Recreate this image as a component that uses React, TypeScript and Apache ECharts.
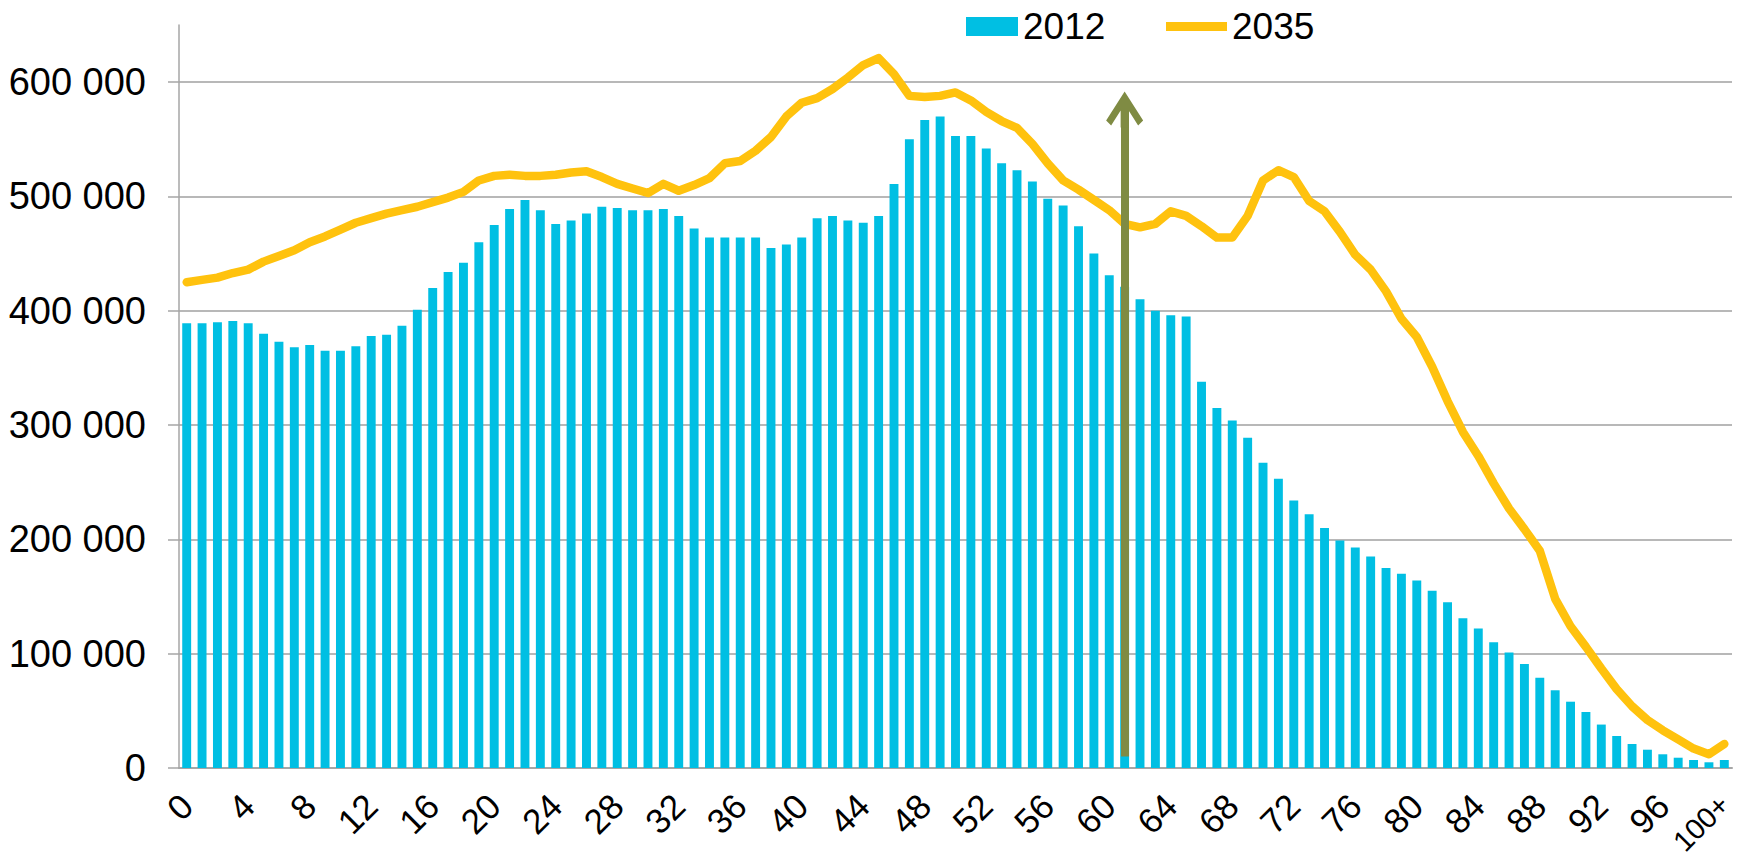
import React, { useEffect, useRef } from "react";
import * as echarts from "echarts";

const categories: string[] = [];
for (let i = 0; i < 100; i++) categories.push(String(i));
categories.push("100+");

const pop2012 = [
  389000, 389000, 390000, 391000, 389000, 380000, 373000, 368000, 370000, 365000,
  365000, 369000, 378000, 379000, 387000, 401000, 420000, 434000, 442000, 460000,
  475000, 489000, 497000, 488000, 476000, 479000, 485000, 491000, 490000, 488000,
  488000, 489000, 483000, 472000, 464000, 464000, 464000, 464000, 455000, 458000,
  464000, 481000, 483000, 479000, 477000, 483000, 511000, 550000, 567000, 570000,
  553000, 553000, 542000, 529000, 523000, 513000, 498000, 492000, 474000, 450000,
  431000, 421000, 410000, 400000, 396000, 395000, 338000, 315000, 304000, 289000,
  267000, 253000, 234000, 222000, 210000, 199000, 193000, 185000, 175000, 170000,
  164000, 155000, 145000, 131000, 122000, 110000, 101000, 91000, 79000, 68000,
  58000, 49000, 38000, 28000, 21000, 16000, 12000, 9000, 7000, 5000,
  7000,
];

const pop2035 = [
  425000, 427000, 429000, 433000, 436000, 443000, 448000, 453000, 460000, 465000,
  471000, 477000, 481000, 485000, 488000, 491000, 495000, 499000, 504000, 514000,
  518000, 519000, 518000, 518000, 519000, 521000, 522000, 517000, 511000, 507000,
  503000, 511000, 505000, 510000, 516000, 529000, 531000, 540000, 552000, 570000,
  582000, 586000, 594000, 604000, 615000, 621000, 607000, 588000, 587000, 588000,
  591000, 584000, 574000, 566000, 560000, 546000, 529000, 514000, 506000, 497000,
  488000, 476000, 473000, 476000, 487000, 483000, 474000, 464000, 464000, 483000,
  514000, 523000, 517000, 496000, 487000, 469000, 449000, 436000, 417000, 393000,
  377000, 351000, 321000, 294000, 273000, 249000, 227000, 209000, 190000, 148000,
  124000, 106000, 87000, 69000, 54000, 42000, 33000, 25000, 17000, 12000,
  21000,
];

const yTicks = [0, 100000, 200000, 300000, 400000, 500000, 600000];
const seriesNames = ["2012", "2035"];
const arrowAge = "61";
const arrowFrom = 10000;
const arrowTo = 576000;

const FONT = "'Liberation Sans', Arial, sans-serif";

function fmt(v: number): string {
  return Math.round(v)
    .toString()
    .replace(/\B(?=(\d{3})+(?!\d))/g, " ");
}

const arrowHead =
  "path://M18.5,0 L37,29 L32,34 L22.5,19 L22.5,36 L14.5,36 L14.5,19 L5,34 L0,29 Z";

export default function App() {
  const ref = useRef<HTMLDivElement>(null);

  useEffect(() => {
    if (!ref.current) return;
    const chart = echarts.init(ref.current, undefined, { renderer: "svg" });
    const lastIdx = categories.length - 1;
    const axisData = categories.map((c, i) =>
      i === lastIdx ? { value: c, textStyle: { fontSize: 29, lineHeight: 18 } } : c
    );
    const option: any = {
      animation: false,
      backgroundColor: "#ffffff",
      grid: {
        left: 179,
        right: 8,
        top: 25,
        bottom: 93,
        containLabel: false,
        outerBoundsMode: "none",
      },
      legend: [
        {
          data: [seriesNames[0]],
          left: 966,
          top: 8,
          padding: 0,
          itemWidth: 52,
          itemHeight: 19,
          icon: "rect",
          textStyle: { fontSize: 37, color: "#000", fontFamily: FONT },
        },
        {
          data: [seriesNames[1]],
          left: 1166,
          top: 8,
          padding: 0,
          itemWidth: 61,
          itemHeight: 9,
          icon: "rect",
          textStyle: { fontSize: 37, color: "#000", fontFamily: FONT },
        },
      ],
      xAxis: {
        type: "category",
        data: axisData,
        axisLine: { show: true, lineStyle: { color: "#A6A6A6", width: 2 } },
        axisTick: { show: false },
        axisLabel: {
          interval: 3,
          rotate: 45,
          fontSize: 35,
          color: "#000",
          fontFamily: FONT,
          margin: 32,
        },
      },
      yAxis: {
        type: "value",
        min: 0,
        max: 650000,
        interval: 100000,
        axisLine: { show: true, lineStyle: { color: "#A6A6A6", width: 1.5 } },
        axisTick: {
          show: true,
          length: 11,
          customValues: yTicks,
          lineStyle: { color: "#A6A6A6", width: 1.5 },
        },
        axisLabel: {
          customValues: yTicks,
          fontSize: 38,
          color: "#000",
          fontFamily: FONT,
          margin: 33,
          formatter: (v: number) => (v > 600000 ? "" : fmt(v)),
        },
        splitLine: {
          show: true,
          showMinLine: false,
          lineStyle: { color: "#A0A0A0", width: 1.5 },
        },
      },
      series: [
        {
          name: seriesNames[0],
          type: "bar",
          data: pop2012,
          barWidth: "58%",
          itemStyle: { color: "#00BFE3" },
        },
        {
          name: seriesNames[1],
          type: "line",
          data: pop2035,
          symbol: "none",
          z: 3,
          itemStyle: { color: "#FFC20E" },
          lineStyle: { color: "#FFC20E", width: 8.5, join: "round", cap: "round" },
          markLine: {
            silent: true,
            animation: false,
            symbol: ["none", arrowHead],
            symbolSize: [37, 36],
            label: { show: false },
            emphasis: { disabled: true },
            lineStyle: {
              color: "#7F8B43",
              width: 8,
              type: "solid",
              opacity: 1,
            },
            data: [
              [
                { coord: [arrowAge, arrowFrom] },
                { coord: [arrowAge, arrowTo], symbolSize: [37, 36] },
              ],
            ],
          },
        },
      ],
    };
    chart.setOption(option);
    return () => chart.dispose();
  }, []);

  return (
    <div
      ref={ref}
      style={{ position: "fixed", left: 0, top: 0, width: 1740, height: 861, background: "#fff" }}
    />
  );
}
